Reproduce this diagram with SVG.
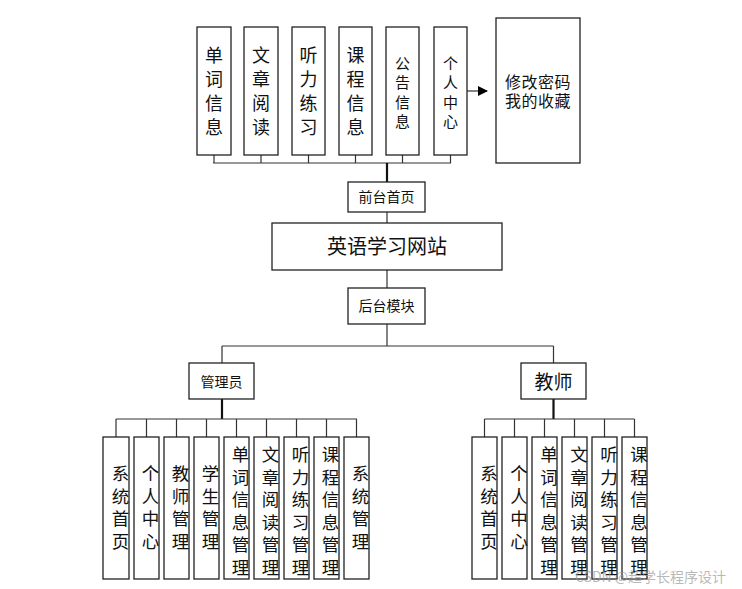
<svg xmlns="http://www.w3.org/2000/svg" width="742" height="589" viewBox="0 0 742 589">
<style>
.box{fill:#fff;stroke:#222;stroke-width:1.3}
.ln{fill:none;stroke:#333;stroke-width:1.2}
.th{fill:none;stroke:#111;stroke-width:2.2}
text{font-family:"Noto Sans CJK SC","Liberation Sans",sans-serif;fill:#111;text-anchor:middle}
.t18{font-size:18px}
.t15{font-size:15px}
.t14{font-size:14px}
.b17{font-size:17.5px}
.wm{font-size:14px;fill:#999;fill-opacity:0.7;text-anchor:start}
</style>
<defs>
<marker id="ah" markerWidth="10" markerHeight="10" refX="9" refY="5" orient="auto" markerUnits="userSpaceOnUse">
<path d="M0,0 L10,5 L0,10 Z" fill="#000"/>
</marker>
</defs>
<rect width="742" height="589" fill="#fff"/>
<g id="connectors">
<path class="ln" d="M214,155V163M261,155V163M308.5,155V163M355.5,155V163M402.5,155V163M450.5,155V163M213,163H451"/>
<path class="th" d="M387,163V182"/>
<path class="ln" d="M387,212V223M387,270V288M387,324V346M222,346H553.5M222,346V363M553.5,346V363"/>
<path class="ln" d="M467,91H487" marker-end="url(#ah)"/>
<path class="th" d="M222,399V419M553.5,399V419"/>
<path class="ln" d="M116,419H357M116,419V437M146.5,419V437M176.5,419V437M206.5,419V437M236.5,419V437M266.5,419V437M296.5,419V437M326.5,419V437M356.5,419V437"/>
<path class="ln" d="M484.5,419H634.5M484.5,419V437M514.5,419V437M544.5,419V437M574.5,419V437M604.5,419V437M634.5,419V437"/>
</g>
<g id="n_dancixinxi"><rect class="box" x="197" y="27" width="34" height="128"/><text class="t18"><tspan x="214" y="61.5">单</tspan><tspan x="214" y="85.5">词</tspan><tspan x="214" y="109.5">信</tspan><tspan x="214" y="133.5">息</tspan></text></g>
<g id="n_wenzhang"><rect class="box" x="244" y="27" width="34" height="128"/><text class="t18"><tspan x="261" y="61.5">文</tspan><tspan x="261" y="85.5">章</tspan><tspan x="261" y="109.5">阅</tspan><tspan x="261" y="133.5">读</tspan></text></g>
<g id="n_tingli"><rect class="box" x="292" y="27" width="33" height="128"/><text class="t18"><tspan x="308.5" y="61.5">听</tspan><tspan x="308.5" y="85.5">力</tspan><tspan x="308.5" y="109.5">练</tspan><tspan x="308.5" y="133.5">习</tspan></text></g>
<g id="n_kecheng"><rect class="box" x="339" y="27" width="33" height="128"/><text class="t18"><tspan x="355.5" y="61.5">课</tspan><tspan x="355.5" y="85.5">程</tspan><tspan x="355.5" y="109.5">信</tspan><tspan x="355.5" y="133.5">息</tspan></text></g>
<g id="n_gonggao"><rect class="box" x="386" y="27" width="33" height="128"/><text class="t15"><tspan x="402.5" y="68.5">公</tspan><tspan x="402.5" y="88">告</tspan><tspan x="402.5" y="107.5">信</tspan><tspan x="402.5" y="127">息</tspan></text></g>
<g id="n_geren"><rect class="box" x="434" y="27" width="33" height="128"/><text class="t15"><tspan x="450.5" y="68.5">个</tspan><tspan x="450.5" y="88">人</tspan><tspan x="450.5" y="107.5">中</tspan><tspan x="450.5" y="127">心</tspan></text></g>
<g id="n_xiugai"><rect class="box" x="496" y="18" width="84" height="145"/><text style="font-size:16px;letter-spacing:0.5px"><tspan x="538" y="88">修改密码</tspan><tspan x="538" y="106.5">我的收藏</tspan></text></g>
<g id="n_qiantai"><rect class="box" x="348" y="182" width="77" height="30"/><text class="t14" x="386.5" y="202">前台首页</text></g>
<g id="n_root"><rect class="box" x="272" y="223" width="230" height="47"/><text x="387" y="254" style="font-size:20px">英语学习网站</text></g>
<g id="n_houtai"><rect class="box" x="348" y="288" width="77" height="36"/><text class="t14" x="386.5" y="311">后台模块</text></g>
<g id="n_admin"><rect class="box" x="189" y="363" width="65" height="36"/><text class="t14" x="221.5" y="387">管理员</text></g>
<g id="n_teacher"><rect class="box" x="521" y="363" width="65" height="36"/><text x="553.5" y="389" style="font-size:19px">教师</text></g>
<g id="a1"><rect class="box" x="103" y="437" width="26" height="142"/><text class="b17"><tspan x="120.5" y="480">系</tspan><tspan x="120.5" y="502.6">统</tspan><tspan x="120.5" y="525.2">首</tspan><tspan x="120.5" y="547.8">页</tspan></text></g>
<g id="a2"><rect class="box" x="134" y="437" width="25" height="142"/><text class="b17"><tspan x="150.5" y="480">个</tspan><tspan x="150.5" y="502.6">人</tspan><tspan x="150.5" y="525.2">中</tspan><tspan x="150.5" y="547.8">心</tspan></text></g>
<g id="a3"><rect class="box" x="164" y="437" width="25" height="142"/><text class="b17"><tspan x="180.5" y="480">教</tspan><tspan x="180.5" y="502.6">师</tspan><tspan x="180.5" y="525.2">管</tspan><tspan x="180.5" y="547.8">理</tspan></text></g>
<g id="a4"><rect class="box" x="194" y="437" width="25" height="142"/><text class="b17"><tspan x="210.5" y="480">学</tspan><tspan x="210.5" y="502.6">生</tspan><tspan x="210.5" y="525.2">管</tspan><tspan x="210.5" y="547.8">理</tspan></text></g>
<g id="a5"><rect class="box" x="224" y="437" width="25" height="142"/><text class="b17"><tspan x="240.5" y="461">单</tspan><tspan x="240.5" y="483.6">词</tspan><tspan x="240.5" y="506.2">信</tspan><tspan x="240.5" y="528.8">息</tspan><tspan x="240.5" y="551.4">管</tspan><tspan x="240.5" y="574">理</tspan></text></g>
<g id="a6"><rect class="box" x="254" y="437" width="25" height="142"/><text class="b17"><tspan x="270.5" y="461">文</tspan><tspan x="270.5" y="483.6">章</tspan><tspan x="270.5" y="506.2">阅</tspan><tspan x="270.5" y="528.8">读</tspan><tspan x="270.5" y="551.4">管</tspan><tspan x="270.5" y="574">理</tspan></text></g>
<g id="a7"><rect class="box" x="284" y="437" width="25" height="142"/><text class="b17"><tspan x="300.5" y="461">听</tspan><tspan x="300.5" y="483.6">力</tspan><tspan x="300.5" y="506.2">练</tspan><tspan x="300.5" y="528.8">习</tspan><tspan x="300.5" y="551.4">管</tspan><tspan x="300.5" y="574">理</tspan></text></g>
<g id="a8"><rect class="box" x="314" y="437" width="25" height="142"/><text class="b17"><tspan x="330.5" y="461">课</tspan><tspan x="330.5" y="483.6">程</tspan><tspan x="330.5" y="506.2">信</tspan><tspan x="330.5" y="528.8">息</tspan><tspan x="330.5" y="551.4">管</tspan><tspan x="330.5" y="574">理</tspan></text></g>
<g id="a9"><rect class="box" x="344" y="437" width="25" height="142"/><text class="b17"><tspan x="360.5" y="480">系</tspan><tspan x="360.5" y="502.6">统</tspan><tspan x="360.5" y="525.2">管</tspan><tspan x="360.5" y="547.8">理</tspan></text></g>
<g id="t1"><rect class="box" x="472" y="437" width="25" height="142"/><text class="b17"><tspan x="489" y="480">系</tspan><tspan x="489" y="502.6">统</tspan><tspan x="489" y="525.2">首</tspan><tspan x="489" y="547.8">页</tspan></text></g>
<g id="t2"><rect class="box" x="502" y="437" width="25" height="142"/><text class="b17"><tspan x="519" y="480">个</tspan><tspan x="519" y="502.6">人</tspan><tspan x="519" y="525.2">中</tspan><tspan x="519" y="547.8">心</tspan></text></g>
<g id="t3"><rect class="box" x="532" y="437" width="25" height="142"/><text class="b17"><tspan x="549" y="461">单</tspan><tspan x="549" y="483.6">词</tspan><tspan x="549" y="506.2">信</tspan><tspan x="549" y="528.8">息</tspan><tspan x="549" y="551.4">管</tspan><tspan x="549" y="574">理</tspan></text></g>
<g id="t4"><rect class="box" x="562" y="437" width="25" height="142"/><text class="b17"><tspan x="579" y="461">文</tspan><tspan x="579" y="483.6">章</tspan><tspan x="579" y="506.2">阅</tspan><tspan x="579" y="528.8">读</tspan><tspan x="579" y="551.4">管</tspan><tspan x="579" y="574">理</tspan></text></g>
<g id="t5"><rect class="box" x="592" y="437" width="25" height="142"/><text class="b17"><tspan x="609" y="461">听</tspan><tspan x="609" y="483.6">力</tspan><tspan x="609" y="506.2">练</tspan><tspan x="609" y="528.8">习</tspan><tspan x="609" y="551.4">管</tspan><tspan x="609" y="574">理</tspan></text></g>
<g id="t6"><rect class="box" x="622" y="437" width="25" height="142"/><text class="b17"><tspan x="639" y="461">课</tspan><tspan x="639" y="483.6">程</tspan><tspan x="639" y="506.2">信</tspan><tspan x="639" y="528.8">息</tspan><tspan x="639" y="551.4">管</tspan><tspan x="639" y="574">理</tspan></text></g>
<text class="wm" x="575" y="582">CSDN @超学长程序设计</text>
</svg>
